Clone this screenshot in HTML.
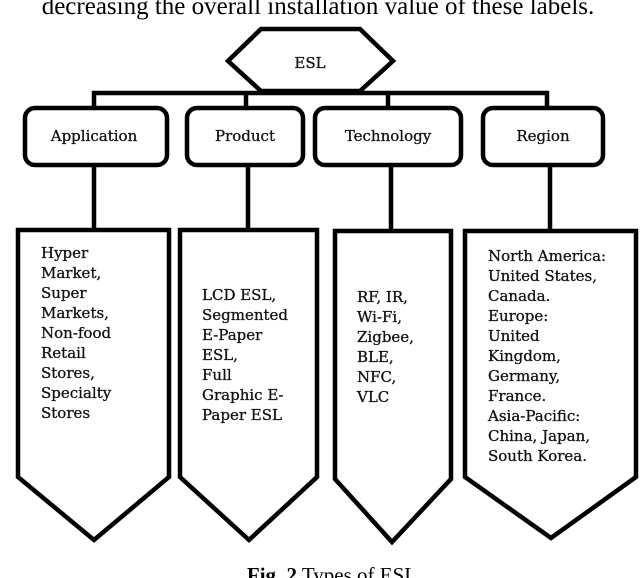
<!DOCTYPE html>
<html><head><meta charset="utf-8"><style>
html,body{margin:0;padding:0;background:#fff;width:640px;height:578px;overflow:hidden}
svg{display:block}
.t{font-family:"DejaVu Serif","Liberation Serif",serif;font-size:15px;fill:#111;stroke:#111;stroke-width:0.3}
</style></head><body>
<svg width="640" height="578" viewBox="0 0 640 578" xmlns="http://www.w3.org/2000/svg">
<text x="318" y="14" text-anchor="middle" font-family="Liberation Serif,serif" font-size="25" fill="#000">decreasing the overall installation value of these labels.</text>
<g fill="none" stroke="#000" stroke-width="4.5" stroke-linejoin="miter">
<polygon points="261,29 360,29 393,61 360,91 261,91 228,61" fill="#fff"/>
<polyline points="94,108 94,93 547,93 547,108"/>
<line x1="246" y1="93" x2="246" y2="108"/>
<line x1="388" y1="93" x2="388" y2="108"/>
<rect x="25" y="108" width="142" height="57" rx="10"/>
<rect x="187" y="108" width="116" height="57" rx="10"/>
<rect x="315" y="108" width="146" height="57" rx="10"/>
<rect x="483" y="108" width="120" height="57" rx="10"/>
<line x1="94" y1="165" x2="94" y2="230"/>
<line x1="248" y1="165" x2="248" y2="230"/>
<line x1="391" y1="165" x2="391" y2="230"/>
<line x1="550" y1="165" x2="550" y2="230"/>
<polygon points="18,230 169,230 169,477 94,540 18,477"/>
<polygon points="180,230 317,230 317,477 249,540 180,477"/>
<polygon points="335,231 451,231 451,479 392,542 335,479"/>
<polygon points="465,231 636,231 636,477 551,538 465,477"/>
</g>
<text class="t" x="310" y="68" text-anchor="middle" font-size="18">ESL</text>
<text class="t" x="94" y="141" text-anchor="middle">Application</text>
<text class="t" x="245" y="141" text-anchor="middle">Product</text>
<text class="t" x="388" y="141" text-anchor="middle">Technology</text>
<text class="t" x="543" y="141" text-anchor="middle">Region</text>
<text class="t" x="41" y="258"><tspan x="41">Hyper</tspan><tspan x="41" dy="20">Market,</tspan><tspan x="41" dy="20">Super</tspan><tspan x="41" dy="20">Markets,</tspan><tspan x="41" dy="20">Non-food</tspan><tspan x="41" dy="20">Retail</tspan><tspan x="41" dy="20">Stores,</tspan><tspan x="41" dy="20">Specialty</tspan><tspan x="41" dy="20">Stores</tspan></text>
<text class="t" x="202" y="300"><tspan x="202">LCD ESL,</tspan><tspan x="202" dy="20">Segmented</tspan><tspan x="202" dy="20">E-Paper</tspan><tspan x="202" dy="20">ESL,</tspan><tspan x="202" dy="20">Full</tspan><tspan x="202" dy="20">Graphic E-</tspan><tspan x="202" dy="20">Paper ESL</tspan></text>
<text class="t" x="357" y="302"><tspan x="357">RF, IR,</tspan><tspan x="357" dy="20">Wi-Fi,</tspan><tspan x="357" dy="20">Zigbee,</tspan><tspan x="357" dy="20">BLE,</tspan><tspan x="357" dy="20">NFC,</tspan><tspan x="357" dy="20">VLC</tspan></text>
<text class="t" x="488" y="261"><tspan x="488">North America:</tspan><tspan x="488" dy="20">United States,</tspan><tspan x="488" dy="20">Canada.</tspan><tspan x="488" dy="20">Europe:</tspan><tspan x="488" dy="20">United</tspan><tspan x="488" dy="20">Kingdom,</tspan><tspan x="488" dy="20">Germany,</tspan><tspan x="488" dy="20">France.</tspan><tspan x="488" dy="20">Asia-Pacific:</tspan><tspan x="488" dy="20">China, Japan,</tspan><tspan x="488" dy="20">South Korea.</tspan></text>
<text x="332" y="582" text-anchor="middle" font-family="Liberation Serif,serif" font-size="21" fill="#000"><tspan font-weight="bold">Fig. 2</tspan> Types of ESL</text>
</svg>
</body></html>
